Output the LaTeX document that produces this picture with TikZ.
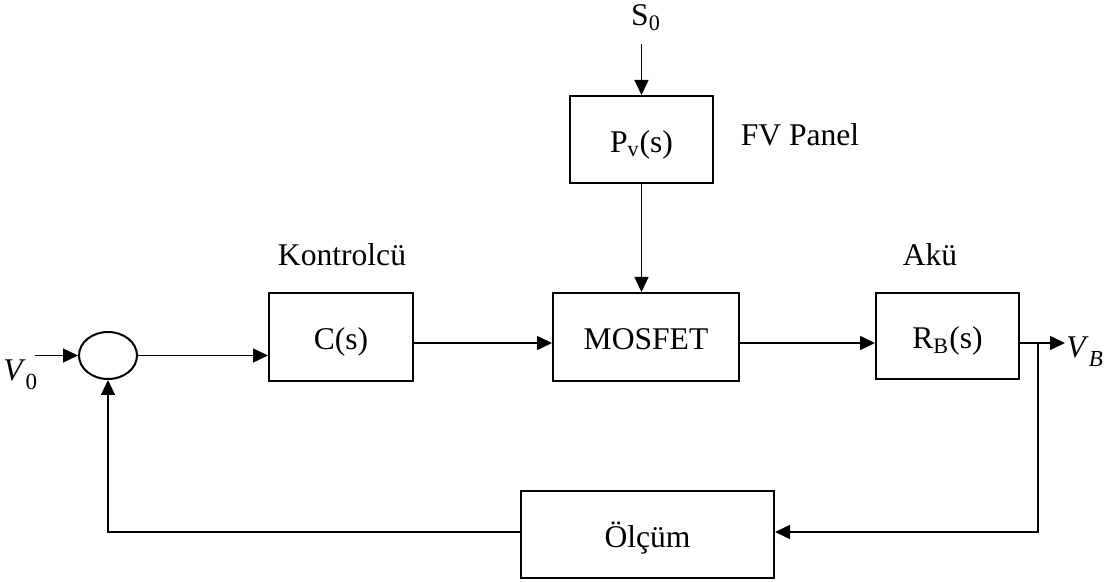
\documentclass[tikz,border=0pt]{standalone}
\usepackage{fontspec}
\setmainfont{Liberation Serif}
\usetikzlibrary{arrows.meta,shapes.geometric,calc}
\newcommand{\lowsub}[1]{\raisebox{-0.28em}{\fontsize{11.5}{11.5}\selectfont #1}}
\begin{document}
\begin{tikzpicture}[x=0.5pt,y=-0.5pt,
  txt/.style={font=\fontsize{15.8}{18}\selectfont},
  blk/.style={draw, line width=1pt, inner sep=0, txt, text height=13pt, text depth=0pt},
  lbl/.style={inner sep=0, anchor=base, txt},
  arr/.style={-{Triangle[length=7.5pt,width=7pt]}, line width=0.7pt},
  ln/.style={line width=0.7pt}]
\useasboundingbox (0,0) rectangle (1109,582);

% blocks
\node[blk, ellipse, minimum width=29pt, minimum height=23.5pt, text height=0pt] (sum) at (108,355.5) {};
\node[blk, minimum width=72pt, minimum height=44pt] (C) at (341,337) {C(s)};
\node[blk, minimum width=93pt, minimum height=44pt] (MOS) at (646,337) {MOSFET};
\node[blk, minimum width=71.5pt, minimum height=43pt] (RB) at (947.5,336) {R\textsubscript{B}(s)};
\node[blk, minimum width=71.5pt, minimum height=43.5pt] (Pv) at (641.5,139.5) {P\textsubscript{v}(s)};
\node[blk, minimum width=126.5pt, minimum height=43.5pt] (Ol) at (647.5,534.5) {Ölçüm};

% labels
\node[lbl] (S0) at (646,26) {S\textsubscript{0}};
\node[lbl] (fv) at (800,146) {FV Panel};
\node[lbl] (kont) at (342,266) {Kontrolcü};
\node[lbl] (aku) at (930,266) {Akü};
\node[txt, inner sep=0, anchor=west] (V0) at (3,375) {\textit{V}\lowsub{0}};
\node[txt, inner sep=0, anchor=west] (VB) at (1066,352) {\textit{V}\lowsub{\textit{B}}};

% helper coordinates
\coordinate (s0a) at (641.5,44);
\coordinate (v0a) at (35,355.5);
\coordinate (row) at (0,343);
\coordinate (vbend) at (1065,343);
\coordinate (br) at (1038,343);
\coordinate (fb) at (0,532);

% connectors
\draw[arr] (s0a) -- (Pv.north);
\draw[arr] (Pv.south) -- (Pv.south |- MOS.north);
\draw[arr] (v0a) -- (sum.west);
\draw[arr] (sum.east) -- (C.west |- sum.east);
\draw[arr] (C.east |- row) -- (MOS.west |- row);
\draw[arr] (MOS.east |- row) -- (RB.west |- row);
\draw[arr] (RB.east |- row) -- (vbend);
\draw[arr] (br) |- (Ol.east |- fb);
\draw[arr] (Ol.west |- fb) -| (sum.south);
\end{tikzpicture}
\end{document}
